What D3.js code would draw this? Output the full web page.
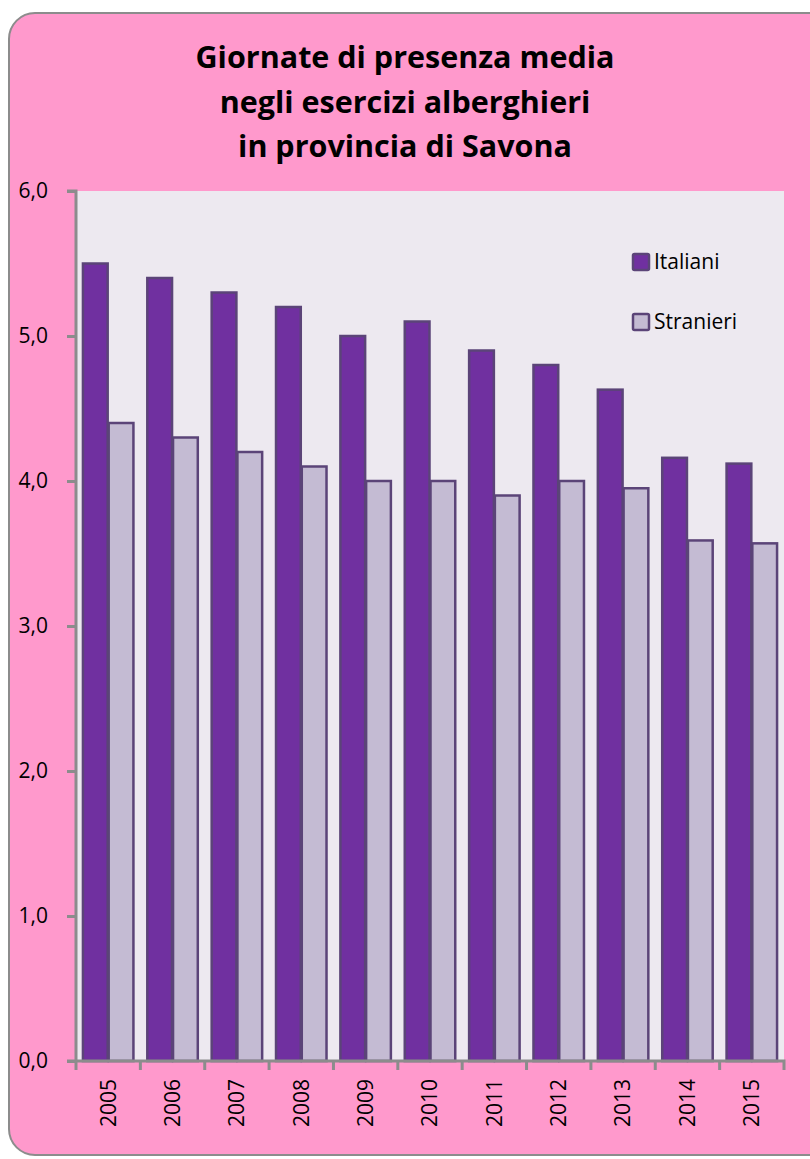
<!DOCTYPE html>
<html><head><meta charset="utf-8">
<script src="https://cdn.jsdelivr.net/npm/d3@7"></script>
<style>html,body{margin:0;padding:0;background:#fff;}svg{display:block;}</style>
</head><body>
<svg id="chart" width="810" height="1159"></svg>
<script>
const years = ["2005","2006","2007","2008","2009","2010","2011","2012","2013","2014","2015"];
const italiani  = [5.5, 5.4, 5.3, 5.2, 5.0, 5.1, 4.9, 4.8, 4.63, 4.16, 4.12];
const stranieri = [4.4, 4.3, 4.2, 4.1, 4.0, 4.0, 3.9, 4.0, 3.95, 3.59, 3.57];
const seriesNames = ["Italiani", "Stranieri"];
const yTicks = [0, 1, 2, 3, 4, 5, 6];
const titleLines = ["Giornate di presenza media", "negli esercizi alberghieri", "in provincia di Savona"];

const svg = d3.select("#chart");
const font = "'Open Sans', 'DejaVu Sans', sans-serif";

// outer frame
svg.append("rect").attr("x", 9).attr("y", 13).attr("width", 830).attr("height", 1142)
  .attr("rx", 26).attr("ry", 26).attr("fill", "#FF99CC").attr("stroke", "#8C8C8C").attr("stroke-width", 2);

const m = {left: 76, top: 191, right: 784, bottom: 1061};
const x = d3.scaleBand().domain(years).range([m.left, m.right]).paddingInner(0).paddingOuter(0);
const inner = d3.scaleBand().domain(seriesNames).range([0, x.bandwidth()]).paddingOuter(0.25).paddingInner(0);
const y = d3.scaleLinear().domain([0, 6]).range([m.bottom, m.top]);

// plot area
svg.append("rect").attr("x", m.left + 1).attr("y", m.top).attr("width", m.right - m.left - 1)
  .attr("height", m.bottom - m.top).attr("fill", "#EDE9F0");

// title
svg.append("g").selectAll("text").data(titleLines).join("text")
  .attr("x", 405).attr("y", (d, i) => 68 + i * 44.5)
  .attr("text-anchor", "middle").attr("font-family", font).attr("font-weight", "bold")
  .attr("font-size", 30.5).attr("fill", "#000").text(d => d);

const colors = {Italiani: "#7030A0", Stranieri: "#C4BBD3"};
const strokeC = "#5B4478";

const g = svg.append("g");
years.forEach((yr, i) => {
  const vals = {Italiani: italiani[i], Stranieri: stranieri[i]};
  seriesNames.forEach(s => {
    g.append("rect")
      .attr("x", x(yr) + inner(s) + 0.5)
      .attr("y", y(vals[s]))
      .attr("width", inner.bandwidth() - 1)
      .attr("height", y(0) - y(vals[s]))
      .attr("fill", colors[s]).attr("stroke", strokeC).attr("stroke-width", 2.5);
  });
});

// y axis
const yAxis = svg.append("g").attr("transform", `translate(${m.left},0)`)
  .call(d3.axisLeft(y).tickValues(yTicks).tickSize(9).tickPadding(19)
    .tickFormat(d => d3.format(".1f")(d).replace(".", ",")));
yAxis.select(".domain").attr("stroke", "#8C8C8C").attr("stroke-width", 3).attr("d", `M-9,${m.top}H0V${m.bottom}`);
yAxis.selectAll(".tick line").attr("stroke", "#8C8C8C").attr("stroke-width", 3);
yAxis.selectAll(".tick text").attr("font-family", font).attr("font-size", 21).attr("fill", "#000");

// x axis
const xAxis = svg.append("g").attr("transform", `translate(0,${m.bottom})`)
  .call(d3.axisBottom(x).tickSize(0).tickPadding(0));
xAxis.select(".domain").attr("stroke", "#8C8C8C").attr("stroke-width", 3).attr("d", `M${m.left - 9},0H${m.right}V9`);
xAxis.selectAll(".tick text")
  .attr("font-family", font).attr("font-size", 21).attr("fill", "#000")
  .attr("transform", "rotate(-90)").attr("text-anchor", "end").attr("dy", "0.35em")
  .attr("x", -18).attr("y", 0);
// category separator ticks
svg.append("g").selectAll("line").data(years).join("line")
  .attr("x1", d => x(d)).attr("x2", d => x(d))
  .attr("y1", m.bottom).attr("y2", m.bottom + 9)
  .attr("stroke", "#8C8C8C").attr("stroke-width", 3);

// legend
const leg = svg.append("g").selectAll("g").data(seriesNames).join("g")
  .attr("transform", (d, i) => `translate(633,${254 + i * 60})`);
leg.append("rect").attr("width", 16).attr("height", 16).attr("rx", 1.5)
  .attr("fill", d => colors[d]).attr("stroke", strokeC).attr("stroke-width", 2.5);
leg.append("text").attr("x", 21).attr("y", 8).attr("dy", "0.35em")
  .attr("font-family", font).attr("font-size", 21).attr("fill", "#000").text(d => d);
</script>
</body></html>
